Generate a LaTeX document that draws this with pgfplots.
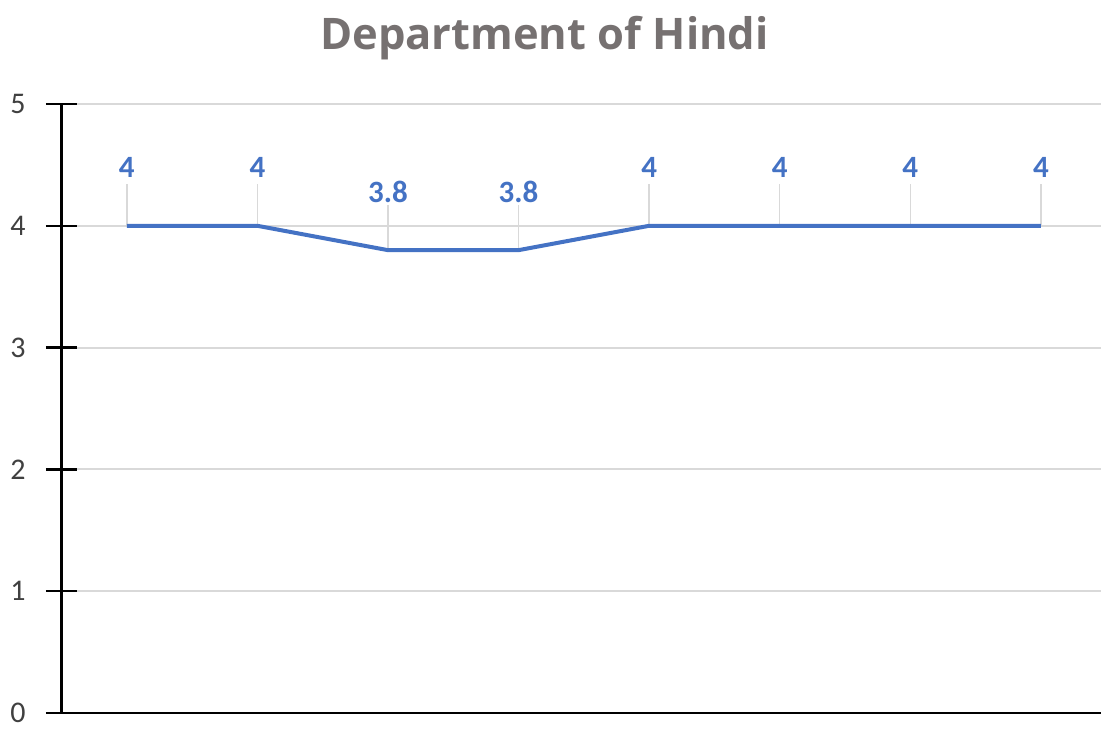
\documentclass[border=0pt]{standalone}
\usepackage{fontspec}
\setmainfont{Carlito}
\newfontfamily\titlefont{Open Sans}
\usepackage{pgfplots}
\pgfplotsset{compat=1.18}
\definecolor{lineblue}{HTML}{4472C4}
\definecolor{gridgray}{HTML}{D9D9D9}
\definecolor{titlegray}{HTML}{767171}
\definecolor{ticktext}{HTML}{404040}
\begin{document}
\begin{tikzpicture}
\begin{axis}[
  name=ax,
  scale only axis,
  width=1039.5pt, height=609pt,
  xmin=-0.5, xmax=7.46,
  ymin=0, ymax=5,
  ytick={0,1,2,3,4,5},
  xtick=\empty,
  axis x line=bottom,
  axis y line=left,
  axis line style={black, line width=2.5pt, -},
  ymajorgrids,
  grid style={gridgray, line width=2pt},
  tick align=center,
  major tick length=31pt,
  tick style={black, line width=2.5pt},
  /pgf/number format/assume math mode=true,
  yticklabel style={font=\fontsize{30}{34}\selectfont, text=ticktext, xshift=-17pt},
  clip=false,
]
\addplot[draw=none, mark=none,
  error bars/.cd, y dir=plus, y fixed=0.34,
  error bar style={gridgray, line width=1.5pt}, error mark=none]
  coordinates {(0,4) (1,4) (4,4) (5,4) (6,4) (7,4)};
\addplot[draw=none, mark=none,
  error bars/.cd, y dir=plus, y fixed=0.37,
  error bar style={gridgray, line width=1.5pt}, error mark=none]
  coordinates {(2,3.8) (3,3.8)};
\addplot[lineblue, line width=4pt, mark=none,
  nodes near coords,
  every node near coord/.append style={font=\bfseries\fontsize{31}{34}\selectfont, text=lineblue, anchor=center, yshift=58pt},
  ] coordinates {(0,4) (1,4) (2,3.8) (3,3.8) (4,4) (5,4) (6,4) (7,4)};
\draw[black, line width=2.5pt] (rel axis cs:0,0) -- (rel axis cs:1,0);
\end{axis}
\node[anchor=base, font=\titlefont\bfseries\fontsize{43.5}{48}\selectfont, text=titlegray]
  at ([shift={(483pt,663pt)}]ax.south west) {Department of Hindi};
\pgfresetboundingbox
\path[use as bounding box] ([shift={(-61.5pt,-20pt)}]ax.south west) rectangle ++(1101pt,733pt);
\end{tikzpicture}
\end{document}
